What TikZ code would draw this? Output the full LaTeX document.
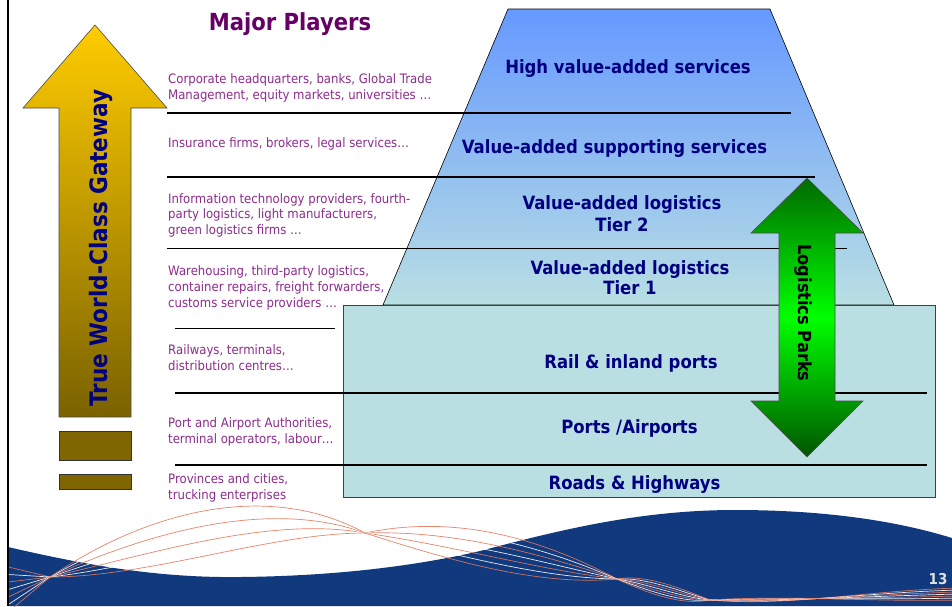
\documentclass[tikz,border=0pt]{standalone}
\usepackage{fontspec}
\setmainfont{DejaVu Sans}[FakeStretch=0.9]
\definecolor{navytxt}{RGB}{0,0,128}
\definecolor{plumtxt}{RGB}{140,45,140}
\definecolor{majorp}{RGB}{102,0,102}
\definecolor{traptop}{RGB}{102,153,255}
\definecolor{rectfill}{RGB}{185,223,227}
\definecolor{wavenavy}{RGB}{17,57,125}
\definecolor{salmonline}{RGB}{228,120,92}
\definecolor{goldtop}{RGB}{255,204,0}
\definecolor{olivebot}{RGB}{122,98,0}
\definecolor{olivebox}{RGB}{128,102,0}
\definecolor{gtop}{RGB}{0,106,0}
\definecolor{gmid}{RGB}{0,255,0}
\definecolor{gbot}{RGB}{0,85,0}
\begin{document}
\begin{tikzpicture}[x=1pt,y=-1pt,
  player/.style={text=plumtxt,font=\fontsize{13}{16}\selectfont,anchor=base west,inner sep=0pt},
  tier/.style={text=navytxt,font=\fontsize{18.3}{22}\selectfont\bfseries,anchor=base,inner sep=0pt},
  sepline/.style={line width=1.8pt,black},
  ]
\useasboundingbox (0,0) rectangle (952,606);
\fill[white] (0,0) rectangle (952,606);

% bottom wave
\fill[wavenavy] (8,547) .. controls (90,566) and (160,578) .. (240,577)
  .. controls (340,576) and (420,565) .. (480,551)
  .. controls (560,530) and (640,510) .. (735,510)
  .. controls (830,510) and (900,522) .. (952,538)
  -- (952,606) -- (8,606) -- cycle;

% ribbon lines
\begin{scope}
\clip (8,480) rectangle (952,606);
\foreach \i in {0,...,6} {
  \pgfmathsetmacro{\h}{\i*6.67}
  \pgfmathsetmacro{\c}{\i-3}
  \ifodd\i \def\rc{white}\else\def\rc{salmonline}\fi
  \draw[\rc, line width=0.7pt, opacity=0.9]
   (0,{565+9*\i}) -- (50,577)
   .. controls (150,{577-1.7*\h}) and (270,{533-1.3*\h}) .. (365,533)
   .. controls (455,{538+8*\c}) and (540,{562+8*\c}) .. (617,579)
   .. controls (645,{583-3*\c}) and (680,{597-3*\c}) .. (710,600)
   .. controls (790,{601-2*\c}) and (870,{596+2*\c}) .. (960,{594+2*\c});
}
\end{scope}

% left border
\draw[line width=2pt,black] (8,0) -- (8,606);

% yellow arrow and bars
\shade[top color=goldtop, bottom color=olivebot, draw=black!70, line width=0.6pt]
  (95,25) -- (167,108) -- (131,108) -- (131,417) -- (59,417) -- (59,108) -- (23,108) -- cycle;
\draw[fill=olivebox, draw=black!80, line width=0.8pt] (59,431) rectangle (131,460);
\draw[fill=olivebox, draw=black!80, line width=0.8pt] (59,474) rectangle (131,489);
\node[rotate=90, anchor=base, text=navytxt, font=\fontsize{24}{24}\selectfont\bfseries, inner sep=0pt]
  (gateway) at (107,248) {True World-Class Gateway};

% title
\node[anchor=base, text=majorp, font=\fontsize{23.5}{24}\selectfont\bfseries, inner sep=0pt]
  (title) at (290,30.5) {Major Players};

% trapezoid and base rectangle
\shade[top color=traptop, bottom color=rectfill, draw=black, line width=0.6pt]
  (508,9) -- (770,9) -- (894,305) -- (383,305) -- cycle;
\draw[fill=rectfill, draw=black!75, line width=1pt] (343,305) rectangle (935,497);

% separator lines
\draw[sepline] (167,113) -- (791,113);
\draw[sepline] (167,177) -- (815,177);
\draw[sepline] (167,248.5) -- (847,248.5);
\draw[sepline] (175,328.5) -- (335,328.5);
\draw[sepline] (175,393) -- (927,393);
\draw[sepline] (175,465) -- (927,465);

% green double arrow
\shade[top color=gtop, bottom color=gbot, middle color=gmid, draw=black!70, line width=0.6pt]
  (807,178) -- (863,233) -- (835,233) -- (835,401) -- (863,401) -- (807,457)
  -- (751,401) -- (779,401) -- (779,233) -- (751,233) -- cycle;
\node[rotate=-90, anchor=base, text=black, font=\fontsize{18}{18}\selectfont\bfseries, inner sep=0pt]
  (parks) at (798.5,313) {Logistics Parks};

% tier labels
\node[tier] (t1) at (628,73.5) {High value-added services};
\node[tier] (t2) at (614.5,153.5) {Value-added supporting services};
\node[tier] (t3a) at (622,209.5) {Value-added logistics};
\node[tier] (t3b) at (622,231.5) {Tier 2};
\node[tier] (t4a) at (630,274.5) {Value-added logistics};
\node[tier] (t4b) at (630,294.5) {Tier 1};
\node[tier] (t5) at (631,368.5) {Rail \& inland ports};
\node[tier] (t6) at (629.5,433.5) {Ports /Airports};
\node[tier] (t7) at (634.5,489.5) {Roads \& Highways};

% players
\node[player] (p1a) at (168,83) {Corporate headquarters, banks, Global Trade};
\node[player] (p1b) at (168,99) {Management, equity markets, universities \dots};
\node[player] (p2) at (168,147) {Insurance firms, brokers, legal services\dots};
\node[player] (p3a) at (168,203) {Information technology providers, fourth-};
\node[player] (p3b) at (168,218.5) {party logistics, light manufacturers,};
\node[player] (p3c) at (168,234) {green logistics firms \dots};
\node[player] (p4a) at (168,275) {Warehousing, third-party logistics,};
\node[player] (p4b) at (168,291) {container repairs, freight forwarders,};
\node[player] (p4c) at (168,307) {customs service providers \dots};
\node[player] (p5a) at (168,354) {Railways, terminals,};
\node[player] (p5b) at (168,370) {distribution centres\dots};
\node[player] (p6a) at (168,427) {Port and Airport Authorities,};
\node[player] (p6b) at (168,443) {terminal operators, labour\dots};
\node[player] (p7a) at (168,483) {Provinces and cities,};
\node[player] (p7b) at (168,499) {trucking enterprises};

% page number
\node[anchor=base, text=black!12, font=\fontsize{15}{15}\selectfont\bfseries, inner sep=0pt]
  (pagenum) at (938,584) {13};
\end{tikzpicture}
\end{document}
